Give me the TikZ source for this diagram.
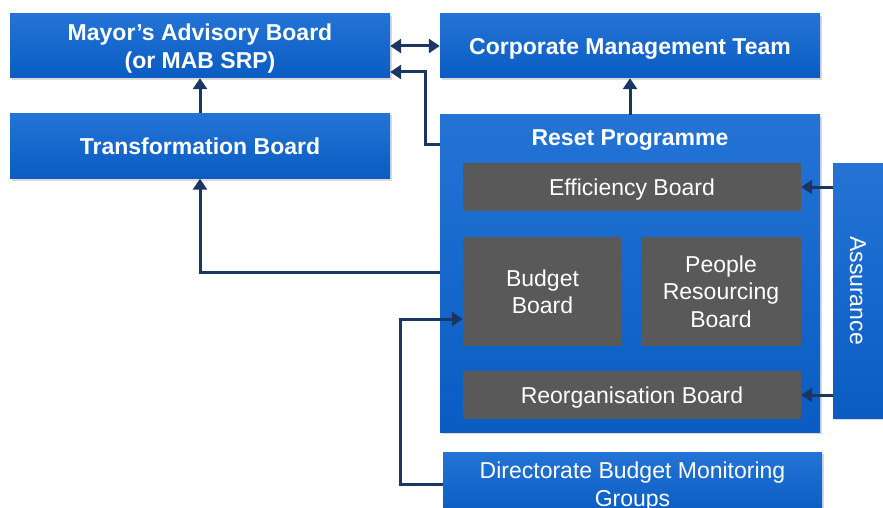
\documentclass[tikz,border=0pt]{standalone}
\usepackage{fontspec}
\setmainfont{Liberation Sans}
\usetikzlibrary{shadows,arrows.meta}

\definecolor{boardbluetop}{RGB}{36,116,214}
\definecolor{boardbluebot}{RGB}{10,92,194}
\definecolor{boardgrey}{RGB}{89,89,89}
\definecolor{linknavy}{RGB}{28,54,98}

\tikzstyle{board} = [rectangle, top color=boardbluetop, bottom color=boardbluebot,
    text=white, align=center, inner sep=0pt, text depth=0pt, font=\fontsize{23}{27.5}\selectfont,
    drop shadow={opacity=0.3, shadow xshift=1.5pt, shadow yshift=-2pt}]
\tikzstyle{mainboard} = [board, font=\fontsize{23}{27.5}\selectfont\bfseries]
\tikzstyle{subboard} = [rectangle, fill=boardgrey, text=white, align=center,
    inner sep=0pt, text depth=0pt, font=\fontsize{23}{27.5}\selectfont]
\tikzstyle{link} = [draw=linknavy, line width=3pt, -{Triangle[length=11pt,width=14pt]}]

\begin{document}
\begin{tikzpicture}[x=1pt,y=-1pt]
	\useasboundingbox (0,0) rectangle (883,508);
	\clip (0,0) rectangle (883,508);
	%
	\node [mainboard, minimum width=380pt, minimum height=64pt] (mab) at (200,46) {Mayor’s Advisory Board\\(or MAB SRP)};
	\node [mainboard, minimum width=380pt, minimum height=64pt] (cmt) at (630,46) {Corporate Management Team};
	\node [mainboard, minimum width=380pt, minimum height=65pt] (trans) at (200,146) {Transformation Board};
	\node [mainboard, minimum width=380pt, minimum height=317pt] (reset) at (630,273.5) {};
	\node [text=white, text depth=0pt, font=\fontsize{23}{27.5}\selectfont\bfseries] (resettitle) at (630,138) {Reset Programme};
	%
	\node [subboard, minimum width=338pt, minimum height=48pt] (eff) at (632,187) {Efficiency Board};
	\node [subboard, minimum width=159pt, minimum height=109pt] (budget) at (542.5,291.5) {Budget\\Board};
	\node [subboard, minimum width=160pt, minimum height=109pt] (people) at (721,291.5) {People\\Resourcing\\Board};
	\node [subboard, minimum width=338pt, minimum height=48pt] (reorg) at (632,395) {Reorganisation Board};
	%
	\node [board, minimum width=60pt, minimum height=255pt] (assur) at (863,290.5) {};
	\node [text=white, rotate=-90, font=\fontsize{23}{27.5}\selectfont] (assurtext) at (858,290.5) {Assurance};
	\node [board, minimum width=379pt, minimum height=64pt] (dbmg) at (632.5,484) {Directorate Budget Monitoring\\Groups};
	%
	\coordinate (k1) at (425,72);
	\coordinate (k2) at (400,319);
	\draw [link, {Triangle[length=11pt,width=14pt]}-{Triangle[length=11pt,width=14pt]}] (mab) -- (cmt);
	\draw [link] (trans.north) -- (mab.south);
	\draw [link] (reset.north) -- (cmt.south);
	\draw [link] ([yshift=-30pt]reset.north west) -| (k1) -- (k1 -| mab.east);
	\draw [link] ([yshift=1.5pt]reset.west) -| (trans.south);
	\draw [link] (dbmg.west) -| (k2) -- (k2 -| budget.west);
	\draw [link] (assur.west |- eff) -- (eff.east);
	\draw [link] (assur.west |- reorg) -- (reorg.east);
\end{tikzpicture}
\end{document}
